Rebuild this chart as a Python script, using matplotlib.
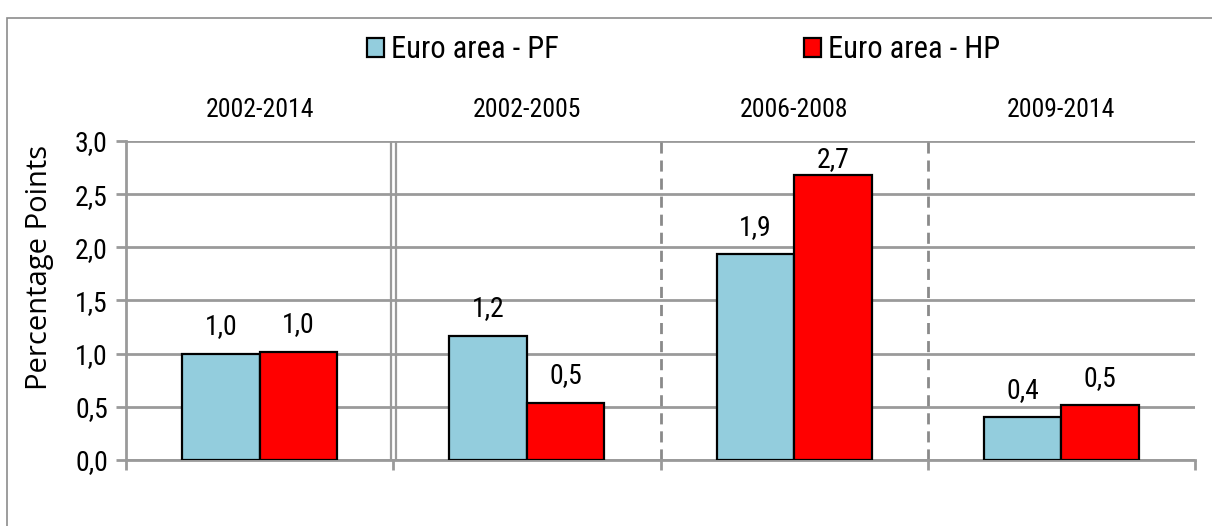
import matplotlib
matplotlib.use("Agg")
import matplotlib.pyplot as plt
from matplotlib import font_manager
from matplotlib.patches import Rectangle
import numpy as np

# data
periods = ["2002-2014", "2002-2005", "2006-2008", "2009-2014"]
pf_values = [1.00, 1.17, 1.94, 0.40]
hp_values = [1.02, 0.54, 2.68, 0.52]
series_names = ["Euro area - PF", "Euro area - HP"]
series_colors = ["#93CDDD", "#FF0000"]
yticks = [0.0, 0.5, 1.0, 1.5, 2.0, 2.5, 3.0]

# narrow font to mimic the squeezed Calibri of the original
names = {f.name for f in font_manager.fontManager.ttflist}
fam = "DejaVu Sans"
for cand in ["Roboto Condensed", "Fira Sans Condensed", "Open Sans Condensed",
             "Barlow Condensed", "Asap Condensed", "Archivo Narrow"]:
    if cand in names:
        fam = cand
        break
plt.rcParams['font.family'] = [fam, 'DejaVu Sans']
label_fam = ["Open Sans", "DejaVu Sans"]


def fmt(v):
    return ("%.1f" % v).replace(".", ",")


fig = plt.figure(figsize=(12.12, 5.26), dpi=100)
ax = fig.add_axes([0.104, 0.1255, 0.882, 0.6065])

# outer chart frame (cut off at right and bottom)
fig.patches.append(Rectangle((7 / 1212, -0.05), 1.2, 1 - 18 / 526 + 0.05,
                             transform=fig.transFigure, fill=False,
                             edgecolor="#8c8c8c", linewidth=1.2, zorder=0))

x = np.arange(len(periods)) + 0.5
w = 0.29
grid_c = "#9a9a9a"
ymax = 3.0

ax.set_xlim(0, len(periods))
ax.set_ylim(0, ymax)
ax.set_yticks(yticks)
ax.set_yticklabels([fmt(v) for v in yticks], fontsize=20)
ax.yaxis.grid(True, color=grid_c, linewidth=2)
ax.set_axisbelow(True)

bars = []
for vals, off, col, name in zip([pf_values, hp_values], [-w / 2, w / 2],
                                series_colors, series_names):
    b = ax.bar(x + off, vals, w, color=col, edgecolor="black", linewidth=1.6,
               label=name, zorder=3)
    bars.append(b)
    for rect, v in zip(b, vals):
        # labels sit above the bar but are kept inside the plot area, like Excel
        ytxt = min(v + 0.18, ymax - 0.245)
        ax.text(rect.get_x() + rect.get_width() / 2, ytxt, fmt(v),
                ha="center", va="baseline", fontsize=20)

# period separators
ax.axvline(1 - 0.009, color=grid_c, linewidth=1.6, zorder=2)
ax.axvline(1 + 0.009, color=grid_c, linewidth=1.6, zorder=2)
for xs in [2, 3]:
    ax.axvline(xs, color="#8a8a8a", linewidth=2, linestyle=(0, (4, 2.5)), zorder=2)

# period labels above the plot
for xc, lab in zip(x, periods):
    ax.text(xc, 1.097, lab, transform=ax.get_xaxis_transform(),
            ha="center", va="center", fontsize=18.5)

ax.set_xticks(np.arange(len(periods) + 1))
ax.set_xticklabels([])
ax.tick_params(axis="x", length=7, width=2, color=grid_c)
ax.tick_params(axis="y", length=7, width=2, color=grid_c, pad=6)

for s in ["top", "right"]:
    ax.spines[s].set_visible(False)
for s in ["left", "bottom"]:
    ax.spines[s].set_color(grid_c)
    ax.spines[s].set_linewidth(2)

ax.set_ylabel("Percentage Points", fontsize=21, family=label_fam)
ax.yaxis.set_label_coords(-0.067, 0.602)

fig.legend(handles=bars, labels=series_names, loc="center left",
           bbox_to_anchor=(367 / 1212, 1 - 50 / 526), ncol=2, frameon=False,
           borderaxespad=0, borderpad=0,
           fontsize=22, handlelength=0.55, handleheight=0.6,
           handletextpad=0.25, columnspacing=8.0)

fig.savefig("out.png", dpi=100)
